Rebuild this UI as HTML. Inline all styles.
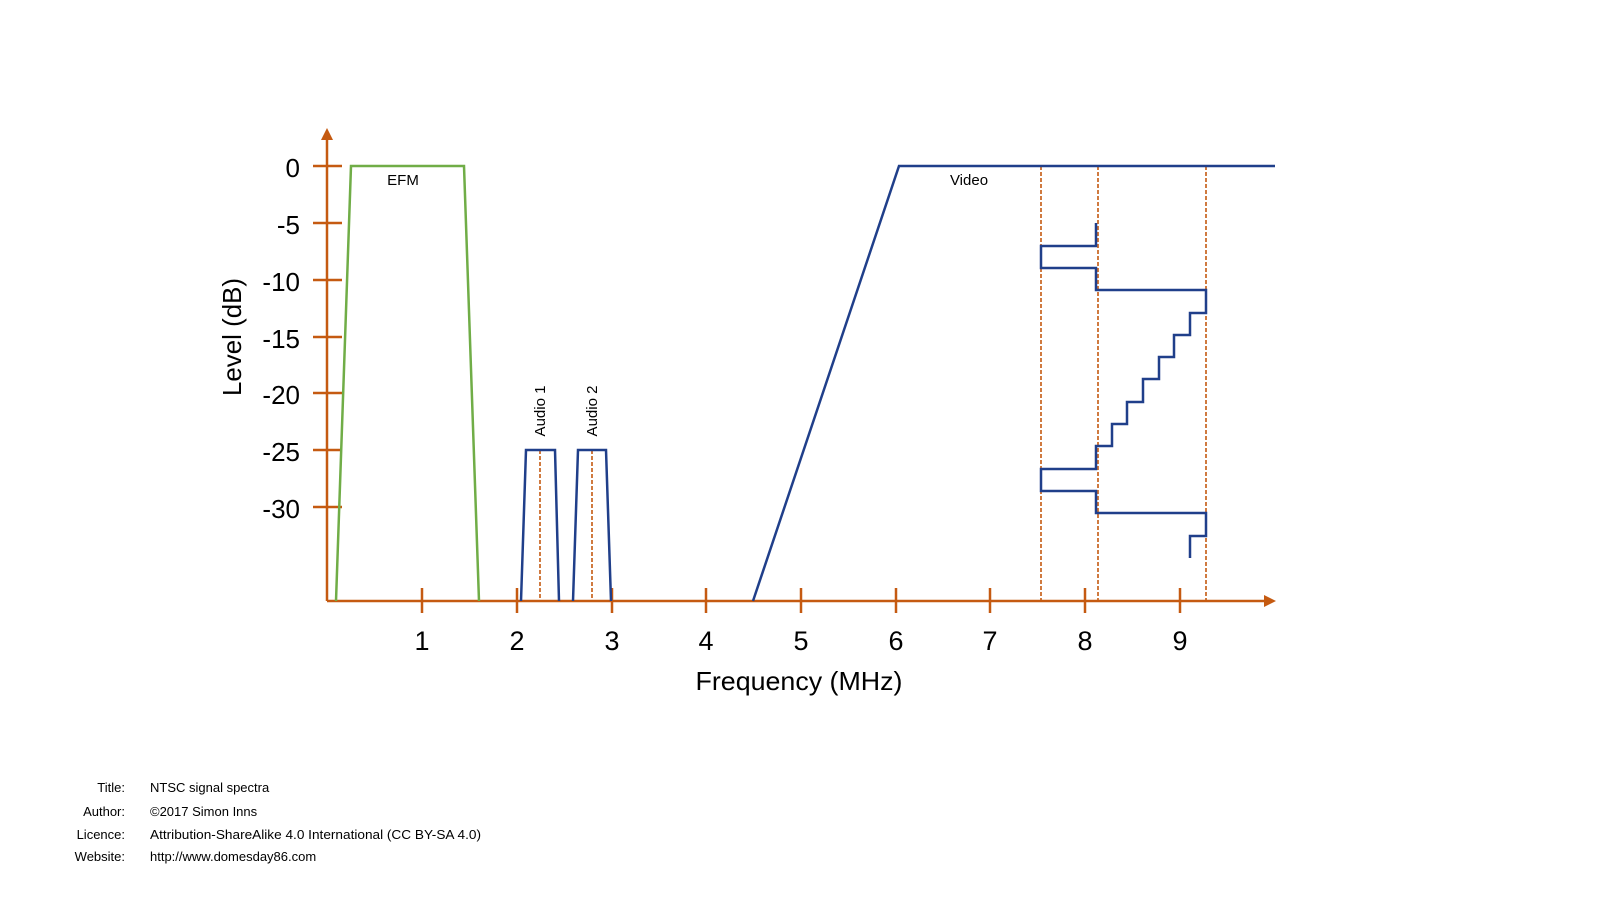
<!DOCTYPE html>
<html><head><meta charset="utf-8"><style>
html,body{margin:0;padding:0;background:#fff;}
svg{display:block;}
text{font-family:"Liberation Sans",sans-serif;fill:#000;}
</style></head><body>
<svg width="1600" height="900" viewBox="0 0 1600 900" xmlns="http://www.w3.org/2000/svg">
<g stroke="#c55a11" stroke-width="2.5" fill="none">
  <line x1="327" y1="138" x2="327" y2="601"/>
  <line x1="327" y1="601" x2="1266" y2="601"/>
  <line x1="313" y1="166" x2="342" y2="166"/>
  <line x1="313" y1="223" x2="342" y2="223"/>
  <line x1="313" y1="280" x2="342" y2="280"/>
  <line x1="313" y1="337" x2="342" y2="337"/>
  <line x1="313" y1="393" x2="342" y2="393"/>
  <line x1="313" y1="450" x2="342" y2="450"/>
  <line x1="313" y1="507" x2="342" y2="507"/>
  <line x1="422" y1="588" x2="422" y2="613"/>
  <line x1="517" y1="588" x2="517" y2="613"/>
  <line x1="612" y1="588" x2="612" y2="613"/>
  <line x1="706" y1="588" x2="706" y2="613"/>
  <line x1="801" y1="588" x2="801" y2="613"/>
  <line x1="896" y1="588" x2="896" y2="613"/>
  <line x1="990" y1="588" x2="990" y2="613"/>
  <line x1="1085" y1="588" x2="1085" y2="613"/>
  <line x1="1180" y1="588" x2="1180" y2="613"/>
</g>
<polygon points="327,128 321,140 333,140" fill="#c55a11"/>
<polygon points="1276,601 1264,595 1264,607" fill="#c55a11"/>
<g stroke="#c55a11" stroke-width="1.6" stroke-dasharray="4,2" fill="none">
  <line x1="540" y1="450" x2="540" y2="601"/>
  <line x1="592" y1="450" x2="592" y2="601"/>
  <line x1="1041" y1="166" x2="1041" y2="601"/>
  <line x1="1098" y1="166" x2="1098" y2="601"/>
  <line x1="1206" y1="166" x2="1206" y2="601"/>
</g>
<polyline points="336,601 351,166 464,166 479,601" fill="none" stroke="#70ad47" stroke-width="2.5"/>
<g fill="none" stroke="#203f8a" stroke-width="2.5">
  <polyline points="521,601 526,450 555,450 559,601"/>
  <polyline points="573,601 578,450 606,450 611,601"/>
  <polyline points="753,601 899,166 1275,166"/>
  <polyline points="1096,223 1096,246 1041,246 1041,268 1096,268 1096,290 1206,290 1206,313 1190,313 1190,335 1174,335 1174,357 1159,357 1159,379 1143,379 1143,402 1127,402 1127,424 1112,424 1112,446 1096,446 1096,469 1041,469 1041,491 1096,491 1096,513 1206,513 1206,536 1190,536 1190,558"/>
</g>
<g font-size="26" text-anchor="end">
  <text x="300" y="177">0</text>
  <text x="300" y="234">-5</text>
  <text x="300" y="291">-10</text>
  <text x="300" y="348">-15</text>
  <text x="300" y="404">-20</text>
  <text x="300" y="461">-25</text>
  <text x="300" y="518">-30</text>
</g>
<g font-size="27" text-anchor="middle">
  <text x="422" y="650">1</text>
  <text x="517" y="650">2</text>
  <text x="612" y="650">3</text>
  <text x="706" y="650">4</text>
  <text x="801" y="650">5</text>
  <text x="896" y="650">6</text>
  <text x="990" y="650">7</text>
  <text x="1085" y="650">8</text>
  <text x="1180" y="650">9</text>
</g>
<text x="799" y="690" font-size="26" text-anchor="middle" textLength="207" lengthAdjust="spacingAndGlyphs">Frequency (MHz)</text>
<text transform="translate(241,337) rotate(-90)" font-size="26" text-anchor="middle" textLength="118" lengthAdjust="spacingAndGlyphs">Level (dB)</text>
<text x="403" y="185" font-size="15" text-anchor="middle">EFM</text>
<text x="969" y="185" font-size="15" text-anchor="middle">Video</text>
<text transform="translate(545,411) rotate(-90)" font-size="15" text-anchor="middle">Audio 1</text>
<text transform="translate(597,411) rotate(-90)" font-size="15" text-anchor="middle">Audio 2</text>
<g font-size="13">
  <text x="125" y="792" text-anchor="end">Title:</text>
  <text x="125" y="816" text-anchor="end">Author:</text>
  <text x="125" y="839" text-anchor="end">Licence:</text>
  <text x="125" y="861" text-anchor="end">Website:</text>
  <text x="150" y="792">NTSC signal spectra</text>
  <text x="150" y="816">©2017 Simon Inns</text>
  <text x="150" y="839" textLength="331" lengthAdjust="spacingAndGlyphs">Attribution-ShareAlike 4.0 International (CC BY-SA 4.0)</text>
  <text x="150" y="861">http://www.domesday86.com</text>
</g>
</svg>
</body></html>
